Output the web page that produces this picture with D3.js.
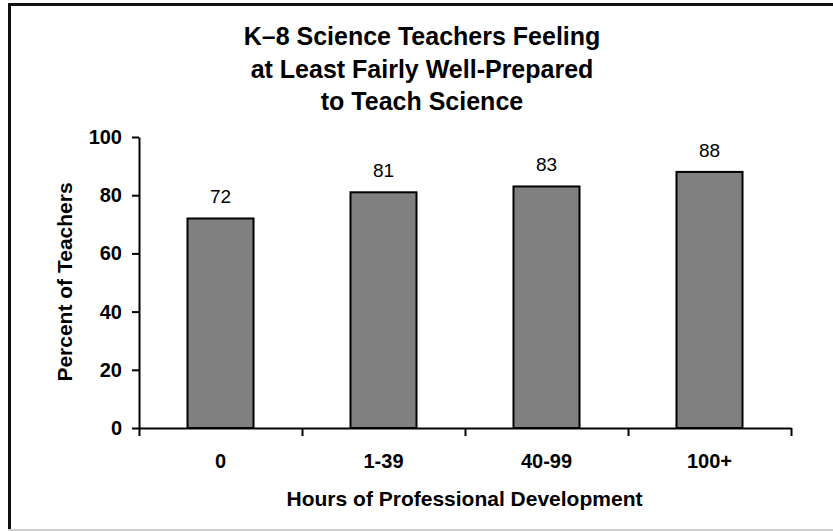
<!DOCTYPE html>
<html>
<head>
<meta charset="utf-8">
<script src="https://cdn.jsdelivr.net/npm/d3@7.9.0/dist/d3.min.js"></script>
<style>
  html, body { margin: 0; padding: 0; background: #fff; }
  svg { display: block; font-family: "Liberation Sans", Arial, sans-serif; }
</style>
</head>
<body>
<div id="chart"></div>
<script>
const categories = ['0', '1-39', '40-99', '100+'];
const values = [72, 81, 83, 88];
const yTicks = [0, 20, 40, 60, 80, 100];
const titleLines = ['K\u20138 Science Teachers Feeling', 'at Least Fairly Well-Prepared', 'to Teach Science'];
const xTitle = 'Hours of Professional Development';
const yTitle = 'Percent of Teachers';

const width = 833, height = 531;
const plot = { left: 139, right: 791, top: 137, bottom: 428 };

const svg = d3.select('#chart')
  .append('svg')
  .attr('width', width)
  .attr('height', height);

// frame
svg.append('line')
  .attr('x1', 9.5).attr('x2', 9.5).attr('y1', 3).attr('y2', 531)
  .attr('stroke', '#111').attr('stroke-width', 3);
svg.append('line')
  .attr('x1', 8).attr('x2', 833).attr('y1', 4.5).attr('y2', 4.5)
  .attr('stroke', '#111').attr('stroke-width', 3);
svg.append('line')
  .attr('x1', 8).attr('x2', 833).attr('y1', 530).attr('y2', 530)
  .attr('stroke', '#ccc').attr('stroke-width', 2);

// title
svg.append('g')
  .selectAll('text')
  .data(titleLines)
  .join('text')
    .attr('x', 422)
    .attr('y', (d, i) => 45 + i * 32.5)
    .attr('text-anchor', 'middle')
    .attr('font-size', 25)
    .attr('font-weight', 'bold')
    .text(d => d);

const x = d3.scaleBand()
  .domain(categories)
  .range([plot.left, plot.right]);

const xEdges = d3.scaleLinear()
  .domain([0, categories.length])
  .range([plot.left, plot.right]);

const y = d3.scaleLinear()
  .domain([0, 100])
  .range([plot.bottom, plot.top]);

const barW = x.bandwidth() * 0.405;

// bars
svg.append('g')
  .selectAll('rect')
  .data(values)
  .join('rect')
    .attr('x', (d, i) => x(categories[i]) + (x.bandwidth() - barW) / 2)
    .attr('y', d => y(d))
    .attr('width', barW)
    .attr('height', d => y(0) - y(d))
    .attr('fill', '#808080')
    .attr('stroke', '#000')
    .attr('stroke-width', 2);

// value labels
svg.append('g')
  .selectAll('text')
  .data(values)
  .join('text')
    .attr('x', (d, i) => x(categories[i]) + x.bandwidth() / 2)
    .attr('y', d => y(d) - 15)
    .attr('text-anchor', 'middle')
    .attr('font-size', 19)
    .text(d => d);

// y axis
const yAxis = svg.append('g')
  .attr('transform', `translate(${plot.left},0)`)
  .call(d3.axisLeft(y).tickValues(yTicks).tickSize(7).tickSizeOuter(0).tickPadding(10));
yAxis.selectAll('path, line').attr('stroke', '#000').attr('stroke-width', 2);
yAxis.selectAll('text')
  .attr('font-family', '"Liberation Sans", Arial, sans-serif')
  .attr('font-size', 20)
  .attr('font-weight', 'bold')
  .attr('fill', '#000');

// x axis (ticks on category boundaries)
const xAxis = svg.append('g')
  .attr('transform', `translate(0,${plot.bottom})`)
  .call(d3.axisBottom(xEdges).ticks(categories.length).tickFormat('').tickSize(8).tickSizeOuter(0));
xAxis.selectAll('path, line').attr('stroke', '#000').attr('stroke-width', 2);

// x category labels
svg.append('g')
  .selectAll('text')
  .data(categories)
  .join('text')
    .attr('x', d => x(d) + x.bandwidth() / 2)
    .attr('y', 468)
    .attr('text-anchor', 'middle')
    .attr('font-size', 20)
    .attr('font-weight', 'bold')
    .text(d => d);

// axis titles
svg.append('text')
  .attr('x', 464.5)
  .attr('y', 506)
  .attr('text-anchor', 'middle')
  .attr('font-size', 21)
  .attr('font-weight', 'bold')
  .text(xTitle);

svg.append('text')
  .attr('transform', 'translate(72,282) rotate(-90)')
  .attr('text-anchor', 'middle')
  .attr('font-size', 21)
  .attr('font-weight', 'bold')
  .text(yTitle);
</script>
</body>
</html>
